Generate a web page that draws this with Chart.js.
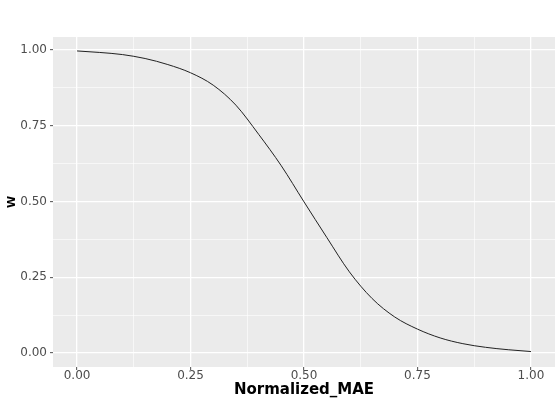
<!DOCTYPE html>
<html>
<head>
<meta charset="utf-8">
<script src="https://cdn.jsdelivr.net/npm/chart.js@4/dist/chart.umd.min.js"></script>
<style>
  html, body { margin: 0; padding: 0; background: #fff; }
  #wrap { width: 556px; height: 400px; }
</style>
</head>
<body>
<div id="wrap"><canvas id="chart" width="556" height="400"></canvas></div>
<script>
// values
const maeValues = [0, 0.05, 0.10, 0.15, 0.20, 0.25, 0.30, 0.35, 0.40, 0.45, 0.50,
                   0.55, 0.60, 0.65, 0.70, 0.75, 0.80, 0.85, 0.90, 0.95, 1.00];
const wValues = [0.997, 0.992, 0.985, 0.972, 0.952, 0.925, 0.884, 0.818, 0.722, 0.618, 0.499,
                 0.382, 0.268, 0.180, 0.119, 0.079, 0.050, 0.031, 0.019, 0.011, 0.005];

const majorTicks = [0, 0.25, 0.5, 0.75, 1];
const minorTicks = [0.125, 0.375, 0.625, 0.875];
const tickLabels = ['0.00', '0.25', '0.50', '0.75', '1.00'];

const xTitle = 'Normalized_MAE';
const yTitle = 'W';

const panelBg = {
  id: 'panelBg',
  beforeDraw(chart) {
    const { ctx, chartArea: a } = chart;
    ctx.save();
    ctx.fillStyle = '#EBEBEB';
    ctx.fillRect(a.left, a.top, a.right - a.left, a.bottom - a.top);
    ctx.restore();
  }
};

function setTicks(scale) {
  scale.ticks = majorTicks.concat(minorTicks).sort((a, b) => a - b).map(v => ({ value: v }));
}
function isMajor(v) {
  return majorTicks.indexOf(v) !== -1;
}
function labelFor(v) {
  const i = majorTicks.indexOf(v);
  return i === -1 ? '' : tickLabels[i];
}

const gridOpts = {
  color: '#FFFFFF',
  lineWidth: ctx => isMajor(ctx.tick && ctx.tick.value) ? 1.3 : 0.6,
  tickColor: ctx => isMajor(ctx.tick && ctx.tick.value) ? '#4D4D4D' : 'rgba(0,0,0,0)',
  tickLength: 3,
  tickWidth: 1,
};

const tickFont = { family: 'DejaVu Sans', size: 12 };

new Chart(document.getElementById('chart'), {
  type: 'line',
  data: {
    datasets: [{
      data: maeValues.map((x, i) => ({ x: x, y: wValues[i] })),
      borderColor: '#222222',
      borderWidth: 1,
      pointRadius: 0,
      fill: false,
      cubicInterpolationMode: 'monotone',
    }],
  },
  options: {
    responsive: false,
    animation: false,
    devicePixelRatio: 1,
    layout: { padding: { top: 37, right: 1, bottom: 0, left: 0 } },
    plugins: { legend: { display: false }, tooltip: { enabled: false } },
    scales: {
      x: {
        type: 'linear',
        min: -0.053,
        max: 1.053,
        afterBuildTicks: setTicks,
        afterFit: s => { s.height = 33; },
        grid: gridOpts,
        border: { display: false },
        ticks: {
          autoSkip: false,
          maxRotation: 0,
          padding: -1,
          color: '#4D4D4D',
          font: tickFont,
          callback: v => labelFor(v),
        },
        title: {
          display: true,
          text: xTitle,
          color: '#000',
          font: { family: 'DejaVu Sans', size: 15, weight: 'bold' },
          padding: { top: 0, bottom: 1 },
        },
      },
      y: {
        type: 'linear',
        min: -0.046,
        max: 1.043,
        afterBuildTicks: setTicks,
        afterFit: s => { s.width = 53; },
        grid: gridOpts,
        border: { display: false },
        ticks: {
          autoSkip: false,
          padding: 3,
          color: '#4D4D4D',
          font: tickFont,
          callback: v => labelFor(v),
        },
        title: {
          display: true,
          text: yTitle,
          color: '#000',
          font: { family: 'DejaVu Sans', size: 11, weight: 'bold' },
          padding: { top: 6, bottom: 0 },
        },
      },
    },
  },
  plugins: [panelBg],
});
</script>
</body>
</html>
